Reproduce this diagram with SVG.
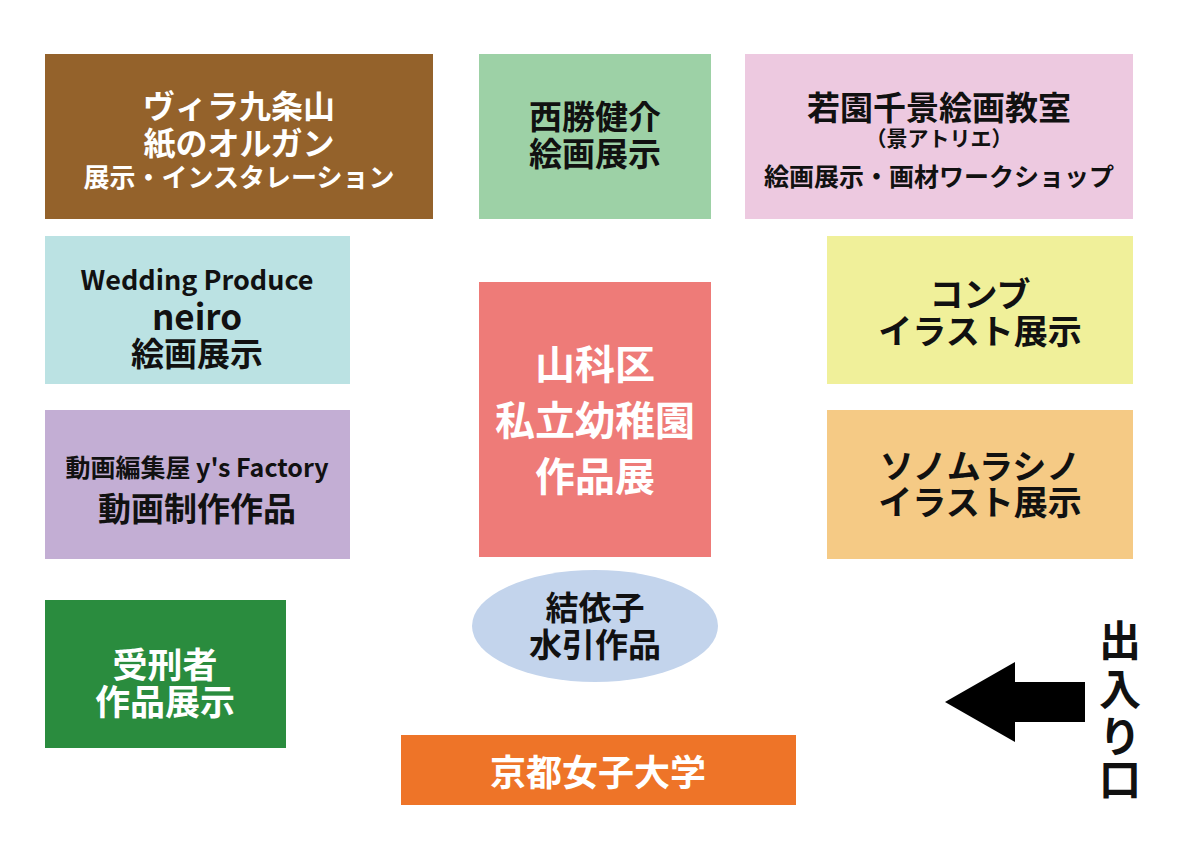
<svg xmlns="http://www.w3.org/2000/svg" width="1200" height="848" viewBox="0 0 1200 848">
<style>
text{font-family:"Noto Sans CJK JP","Noto Sans",sans-serif;font-weight:bold;text-anchor:middle;dominant-baseline:central}
.w{fill:#fff}.k{fill:#111}
</style>
<rect width="1200" height="848" fill="#fff"/>
<g id="villa"><rect x="45" y="54" width="388" height="165" fill="#94622b"/>
<text class="w" x="239" y="104" font-size="32">ヴィラ九条山</text>
<text class="w" x="239" y="141" font-size="32">紙のオルガン</text>
<text class="w" x="239" y="175" font-size="26">展示・インスタレーション</text></g>
<g id="nishikatsu"><rect x="479" y="54" width="232" height="165" fill="#9dd1a6"/>
<text class="k" x="595" y="115" font-size="33">西勝健介</text>
<text class="k" x="595" y="152" font-size="33">絵画展示</text></g>
<g id="wakazono"><rect x="745" y="54" width="388" height="165" fill="#edc9e0"/>
<text class="k" x="939" y="106" font-size="33">若園千景絵画教室</text>
<text class="k" x="939" y="137" font-size="21">（景アトリエ）</text>
<text class="k" x="939" y="175" font-size="25">絵画展示・画材ワークショップ</text></g>
<g id="neiro"><rect x="45" y="236" width="305" height="148" fill="#bbe2e3"/>
<text class="k" x="197" y="278" font-size="27">Wedding Produce</text>
<text class="k" x="197" y="314" font-size="35">neiro</text>
<text class="k" x="197" y="352" font-size="33">絵画展示</text></g>
<g id="ys"><rect x="45" y="410" width="305" height="149" fill="#c3aed4"/>
<text class="k" x="197" y="466" font-size="25">動画編集屋 y's Factory</text>
<text class="k" x="197" y="507" font-size="33">動画制作作品</text></g>
<g id="jukei"><rect x="45" y="600" width="241" height="148" fill="#2a8c3e"/>
<text class="w" x="165" y="662" font-size="35">受刑者</text>
<text class="w" x="165" y="699" font-size="35">作品展示</text></g>
<g id="yochien"><rect x="479" y="282" width="232" height="275" fill="#ee7b78"/>
<text class="w" x="595" y="362" font-size="40">山科区</text>
<text class="w" x="595" y="418" font-size="40">私立幼稚園</text>
<text class="w" x="595" y="474" font-size="40">作品展</text></g>
<g id="yuiko"><ellipse cx="595" cy="626" rx="123" ry="56" fill="#c3d4ec"/>
<text class="k" x="595" y="606" font-size="33">結依子</text>
<text class="k" x="595" y="643" font-size="33">水引作品</text></g>
<g id="kyoto"><rect x="401" y="735" width="395" height="70" fill="#ee7428"/>
<text class="w" x="598" y="770" font-size="36">京都女子大学</text></g>
<g id="konbu"><rect x="827" y="236" width="306" height="148" fill="#f0f09a"/>
<text class="k" x="980" y="292" font-size="34">コンブ</text>
<text class="k" x="980" y="329" font-size="34">イラスト展示</text></g>
<g id="sonomura"><rect x="827" y="410" width="306" height="149" fill="#f5ca85"/>
<text class="k" x="980" y="464" font-size="34">ソノムラシノ</text>
<text class="k" x="980" y="500" font-size="34">イラスト展示</text></g>
<g id="connectors"><polygon points="945,702 1015,662 1015,682 1085,682 1085,722 1015,722 1015,742" fill="#000"/></g>
<g id="entrance">
<text class="k" x="1120" y="637" font-size="42">出</text>
<text class="k" x="1120" y="686" font-size="42">入</text>
<text class="k" x="1120" y="733" font-size="42">り</text>
<text class="k" x="1120" y="776" font-size="42">口</text></g>
</svg>
